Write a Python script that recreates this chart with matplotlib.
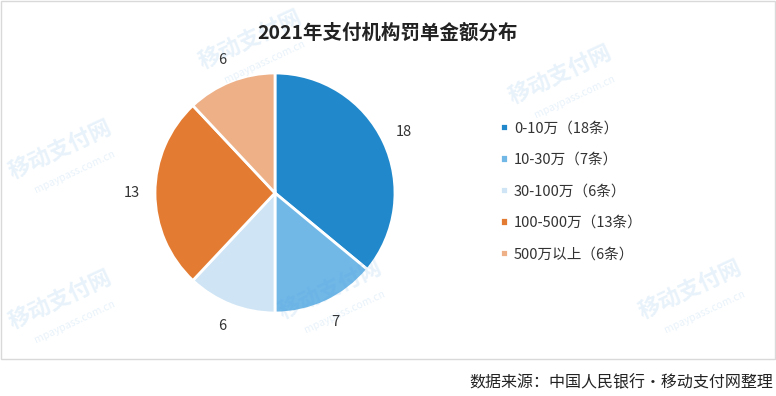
import matplotlib.pyplot as plt
from matplotlib.patches import Rectangle

plt.rcParams['font.family'] = ['Noto Sans CJK SC', 'DejaVu Sans']

# 数据
categories = ['0-10万（18条）', '10-30万（7条）', '30-100万（6条）', '100-500万（13条）', '500万以上（6条）']
values = [18, 7, 6, 13, 6]
colors = ['#2189CB', '#71B8E7', '#CFE5F5', '#E37C32', '#EEB087']
title = '2021年支付机构罚单金额分布'
source = '数据来源：中国人民银行·移动支付网整理'

fig = plt.figure(figsize=(7.76, 3.96), dpi=100)

# 外框
fig.patches.append(Rectangle((0.5 / 776, 1 - 359 / 396), 774 / 776, 358 / 396,
                             transform=fig.transFigure, fill=False,
                             edgecolor='#D9D9D9', linewidth=1))

# 饼图
r = 120
ax = fig.add_axes([(275 - r) / 776, 1 - (193 + r) / 396, 2 * r / 776, 2 * r / 396])
total = sum(values)
wedges, texts, autotexts = ax.pie(values, colors=colors, startangle=90, counterclock=False,
                                  autopct=lambda p: f'{round(p * total / 100)}',
                                  pctdistance=1.19,
                                  wedgeprops=dict(edgecolor='white', linewidth=2),
                                  textprops=dict(fontsize=10.5, color='#333333'))
ax.set_xlim(-1, 1)
ax.set_ylim(-1, 1)
ax.set_aspect('equal')

# 水印
wm = [(60, 150), (250, 40), (560, 75), (330, 290), (690, 290), (60, 300)]
for x, y in wm:
    fig.text(x / 776, 1 - y / 396, '移动支付网', fontsize=16, color='#4A9BD8', alpha=0.13,
             rotation=25, ha='center', va='center', fontweight='bold')
    fig.text((x + 15) / 776, 1 - (y + 22) / 396, 'mpaypass.com.cn', fontsize=7.5,
             color='#4A9BD8', alpha=0.13, rotation=25, ha='center', va='center')

fig.text(388 / 776, 1 - 33 / 396, title, ha='center', va='center',
         fontsize=14, color='#222222', fontweight='bold')

leg = fig.legend(wedges, categories, loc='upper left',
                 bbox_to_anchor=(487 / 776, 1 - 108 / 396), frameon=False,
                 fontsize=10.5, handlelength=0.55, handleheight=0.55,
                 handletextpad=0.4, labelspacing=1.2)
for t in leg.get_texts():
    t.set_color('#333333')

fig.text(773 / 776, 1 - 383 / 396, source, ha='right', va='center',
         fontsize=11.5, color='#222222')

fig.savefig('out.png', dpi=100)
